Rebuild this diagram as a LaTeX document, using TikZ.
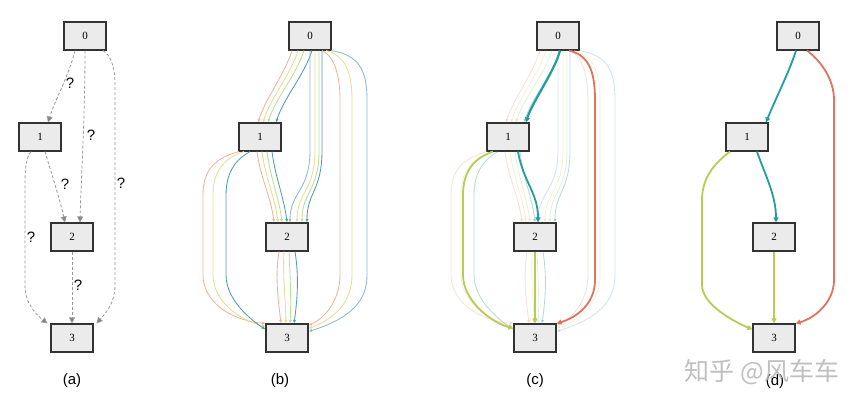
\documentclass[tikz,border=0pt]{standalone}
\usepackage{fontspec}
\setmainfont{Liberation Serif}
\newfontfamily\labfont{Liberation Sans}
\newfontfamily\cjkfont{Noto Sans CJK SC}
\usetikzlibrary{arrows.meta}
\definecolor{pA}{HTML}{EFB39B}
\definecolor{pB}{HTML}{E6DC96}
\definecolor{pC}{HTML}{BEDC9A}
\definecolor{pD}{HTML}{4E9FAA}
\definecolor{pE}{HTML}{8FB8D0}
\definecolor{hteal}{HTML}{229E9C}
\definecolor{hred}{HTML}{E0735E}
\definecolor{hyg}{HTML}{B5CD55}
\definecolor{nfill}{HTML}{EBEBEB}
\newcommand\drawbundles[3]{%
 \begin{scope}[opacity=#3]
 \foreach \s/\e/\c in {-18/-2/pA,-12/3/pB,-6/8/pC,2/16/pD}
   \draw[bl,\c] ([xshift=\s pt]#10.south) .. controls +(-8,25) and +(8,-25) .. ([xshift=\e pt]#11.north);
 \foreach \s/\e/\c in {0/3/pE,5/10/pB,9/15/pC,12/20/pD}
   \draw[bl,\c] ([xshift=\s pt]#10.south) -- ++(0,100) .. controls +(0,40) and +(0,-30) .. ([xshift=\e pt]#12.north);
 \foreach \s/\xr/\e/\c in {12/340/2/pA,16/352/5/pB,21/367/8/pE}
   \draw[bl,\c] ([xshift=\s pt]#10.south) .. controls ({\xr+#2-8},55) and ({\xr+#2},70) .. ({\xr+#2},100) -- ({\xr+#2},275) .. controls ({\xr+#2},300) and ({\xr+#2-15},318) .. ([yshift=-\e pt]#13.north east);
 \foreach \s/\e/\c in {-3/-13/pA,2/-9/pB,7/-5/pC,12/0/pD}
   \draw[bl,\c] ([xshift=\s pt]#11.south) .. controls +(3,25) and +(-3,-25) .. ([xshift=\e pt]#12.north);
 \foreach \s/\xl/\e/\c in {-21/203/0/pA,-16/213/3/pB,-10/226/6/pD}
   \draw[bl,\c] ([xshift=\s pt]#11.south) .. controls ({\xl+#2+12},158) and ({\xl+#2},170) .. ({\xl+#2},195) -- ({\xl+#2},275) .. controls ({\xl+#2},300) and ({\xl+#2+25},320) .. ([yshift=-\e pt]#13.north west);
 \foreach \s/\e/\c in {-8/-6/pA,-3/-1/pB,2/3/pC,8/7/pD}
   \draw[bl,\c] ([xshift=\s pt]#12.south) .. controls +({\s*0.5},25) and +({\e*0.5},-25) .. ([xshift=\e pt]#13.north);
 \end{scope}}
\begin{document}
\begin{tikzpicture}[x=1pt,y=-1pt,
  nd/.style={draw=black!80, fill=nfill, line width=1.1pt, minimum width=42pt, minimum height=28pt, inner sep=0pt, font=\fontsize{11}{11}\selectfont},
  dq/.style={draw=black!40, dash pattern=on 3pt off 2pt, line width=0.8pt, -{Triangle[length=6pt,width=6pt,fill=black!50]}},
  qm/.style={font=\labfont\fontsize{15}{15}\selectfont},
  captxt/.style={font=\labfont\fontsize{15}{15}\selectfont},
  bl/.style={line width=0.85pt, -{Latex[length=3.5pt,width=3.2pt]}},
  hl/.style={line width=1.8pt, -{Triangle[length=5pt,width=5pt]}}]
\useasboundingbox (0,0) rectangle (864,407);
% ---------- (a)
\node[nd] (a0) at (85,36) {0};
\node[nd] (a1) at (40,137) {1};
\node[nd] (a2) at (72,237) {2};
\node[nd] (a3) at (72,338) {3};
\draw[dq] ([xshift=-10pt]a0.south) .. controls (68,78) and (55,100) .. ([xshift=8pt]a1.north);
\node[qm] at (70,83) {?};
\draw[dq] (a0.south) .. controls (85,120) and (81,180) .. ([xshift=8pt]a2.north);
\node[qm] at (91,135) {?};
\draw[dq] ([xshift=18pt]a0.south) .. controls (110,55) and (115,65) .. (115,85) -- (115,285) .. controls (115,305) and (103,316) .. ([xshift=3pt]a3.north east);
\node[qm] at (121,183) {?};
\draw[dq] ([xshift=5pt]a1.south) .. controls (52,175) and (60,200) .. ([xshift=-7pt]a2.north);
\node[qm] at (65,184) {?};
\draw[dq] ([xshift=-9pt]a1.south) .. controls (26,158) and (25,168) .. (25,185) -- (25,285) .. controls (25,305) and (38,316) .. ([xshift=-3pt]a3.north west);
\node[qm] at (31,237) {?};
\draw[dq] (a2.south) -- (a3.north);
\node[qm] at (78,285) {?};
\node[captxt] at (72,381) {(a)};
% ---------- (b)
\node[nd] (b0) at (310,36) {0};
\node[nd] (b1) at (260,137) {1};
\node[nd] (b2) at (287,237) {2};
\node[nd] (b3) at (287,338) {3};
\drawbundles{b}{0}{1}
\node[captxt] at (280,381) {(b)};
% ---------- (c)
\node[nd] (c0) at (558,36) {0};
\node[nd] (c1) at (508,137) {1};
\node[nd] (c2) at (535,237) {2};
\node[nd] (c3) at (535,338) {3};
\drawbundles{c}{248}{0.4}
\draw[hl,hteal,line width=2.2pt] ([xshift=2pt]c0.south) .. controls +(-5,20) and +(6,-20) .. ([xshift=18pt]c1.north);
\draw[hl,hred] ([xshift=11pt]c0.south) .. controls (588,55) and (595,70) .. (595,100) -- (595,280) .. controls (595,305) and (575,318) .. (c3.north east);
\draw[hl,hteal] ([xshift=10pt]c1.south) .. controls +(5,30) and +(0,-30) .. ([xshift=3pt]c2.north);
\draw[hl,hyg] ([xshift=-15pt]c1.south) .. controls (475,158) and (463,170) .. (463,195) -- (463,275) .. controls (463,300) and (490,322) .. ([yshift=-5pt]c3.north west);
\draw[hl,hyg] (c2.south) -- (c3.north);
\node[captxt] at (535,381) {(c)};
% ---------- (d)
\node[nd] (d0) at (798,36) {0};
\node[nd] (d1) at (747,137) {1};
\node[nd] (d2) at (774,237) {2};
\node[nd] (d3) at (774,338) {3};
\draw[hl,hteal] ([xshift=-2pt]d0.south) .. controls (790,70) and (775,100) .. ([xshift=19pt]d1.north);
\draw[hl,hred] ([xshift=9pt]d0.south) .. controls (822,62) and (834,80) .. (834,100) -- (834,280) .. controls (834,302) and (815,318) .. (d3.north east);
\draw[hl,hteal] ([xshift=10pt]d1.south) .. controls (765,175) and (776,195) .. ([xshift=2pt]d2.north);
\draw[hl,hyg] ([xshift=-17pt]d1.south) .. controls (712,165) and (702,180) .. (702,200) -- (702,285) .. controls (702,305) and (735,322) .. ([yshift=-6pt]d3.north west);
\draw[hl,hyg] (d2.south) -- (d3.north);
\node[captxt] at (775,382) {(d)};
\node[font=\cjkfont\fontsize{25}{25}\selectfont, text=black!28, opacity=0.9] at (762,372) {知乎 @风车车};
\end{tikzpicture}
\end{document}
